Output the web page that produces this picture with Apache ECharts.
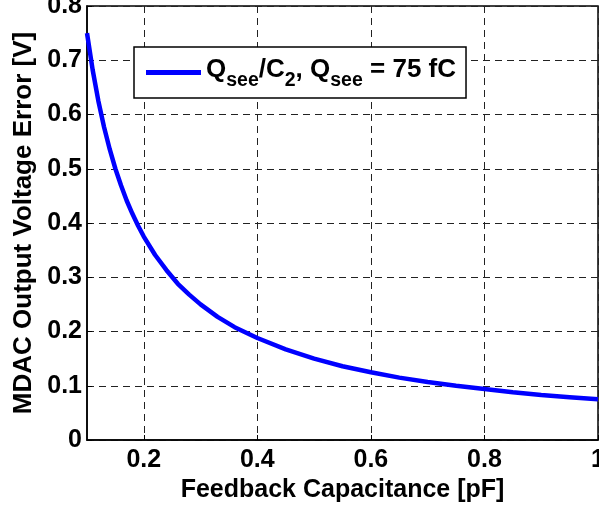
<!DOCTYPE html>
<html>
<head>
<meta charset="utf-8">
<script src="https://cdn.jsdelivr.net/npm/echarts@6/dist/echarts.min.js"></script>
<style>
html,body{margin:0;padding:0;background:#fff;}
#chart{width:599px;height:508px;}
</style>
</head>
<body>
<div id="chart"></div>
<script>
// Feedback capacitance [pF]
var capacitance = [0.10,0.11,0.12,0.13,0.14,0.15,0.16,0.17,0.18,0.19,0.20,0.22,0.24,0.26,0.28,0.30,0.33,0.36,0.40,0.45,0.50,0.55,0.60,0.65,0.70,0.75,0.80,0.85,0.90,0.95,1.00];
// MDAC output voltage error [V]
var voltageError = [0.750,0.682,0.625,0.577,0.536,0.500,0.469,0.441,0.417,0.395,0.375,0.341,0.313,0.288,0.268,0.250,0.227,0.208,0.188,0.167,0.150,0.136,0.125,0.115,0.107,0.100,0.094,0.088,0.083,0.079,0.075];
var xTicks = [0.2,0.4,0.6,0.8,1];
var yTicks = [0,0.1,0.2,0.3,0.4,0.5,0.6,0.7,0.8];
var seriesName = 'Qsee/C2, Qsee = 75 fC';

var FONT = "'Liberation Sans', Arial, sans-serif";
var FS = 25;
var data = capacitance.map(function(x,i){return [x, voltageError[i]];});

var chart = echarts.init(document.getElementById('chart'), null, {renderer:'canvas'});
chart.setOption({
  animation:false,
  backgroundColor:'#fff',
  grid:{left:87,right:1,top:6,bottom:68,outerBoundsMode:'none',containLabel:false,show:true,borderColor:'#000',borderWidth:1.5,backgroundColor:'transparent'},
  legend:{
    left:134, top:47,
    padding:[7,10,7,12],
    backgroundColor:'#fff',
    borderColor:'#000', borderWidth:1.5, borderRadius:0,
    itemWidth:55, itemHeight:5,
    data:[{name:seriesName, icon:'rect', itemStyle:{color:'#0000ff'}}],
    formatter:function(){return '{n|Q}{s|see}{n|/C}{s|2}{n|, Q}{s|see}{n| = 75 fC}';},
    textStyle:{
      color:'#000', fontFamily:FONT, fontWeight:'bold', fontSize:26,
      rich:{
        n:{fontSize:26,fontWeight:'bold',fontFamily:FONT,color:'#000',lineHeight:26,verticalAlign:'top',padding:[3,0,0,0]},
        s:{fontSize:19.5,fontWeight:'bold',fontFamily:FONT,color:'#000',lineHeight:37,verticalAlign:'bottom'}
      }
    }
  },
  xAxis:{
    type:'value', min:0.1, max:1,
    name:'Feedback Capacitance [pF]', nameLocation:'middle', nameGap:33,
    nameTextStyle:{fontFamily:FONT,fontWeight:'bold',fontSize:FS,color:'#000'},
    axisLine:{show:true,onZero:false,lineStyle:{color:'#000',width:1.5}},
    axisTick:{show:true,inside:true,length:5,customValues:xTicks,lineStyle:{color:'#000'}},
    axisLabel:{customValues:xTicks,margin:8,fontFamily:FONT,fontWeight:'bold',fontSize:FS,color:'#000',
      formatter:function(v){return String(+v.toFixed(1));}},
    splitLine:{show:true,lineStyle:{color:'#222',width:1,type:[7,5]}}
  },
  yAxis:{
    type:'value', min:0, max:0.8, interval:0.1,
    name:'MDAC Output Voltage Error [V]', nameLocation:'middle', nameGap:43,
    nameTextStyle:{fontFamily:FONT,fontWeight:'bold',fontSize:26,color:'#000'},
    axisLine:{show:true,lineStyle:{color:'#000',width:1.5}},
    axisTick:{show:true,inside:true,length:5,lineStyle:{color:'#000'}},
    axisLabel:{margin:5,fontFamily:FONT,fontWeight:'bold',fontSize:FS,color:'#000',
      formatter:function(v){return String(+v.toFixed(1));}},
    splitLine:{show:true,lineStyle:{color:'#222',width:1,type:[7,5]}}
  },
  series:[{
    name:seriesName, type:'line', data:data, showSymbol:false, smooth:false,
    lineStyle:{color:'#0000ff',width:4.5}, itemStyle:{color:'#0000ff'}
  }]
});
</script>
</body>
</html>
